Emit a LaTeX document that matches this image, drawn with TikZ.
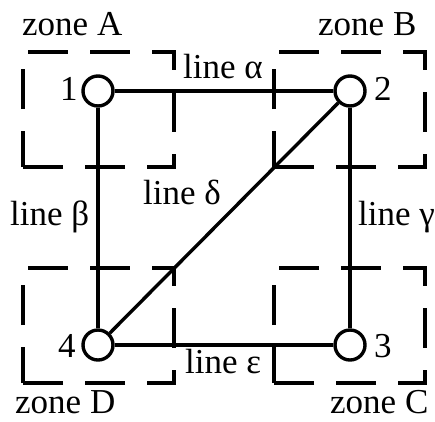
\documentclass[tikz,border=0pt]{standalone}
\usepackage{fontspec}
\setmainfont{Liberation Serif}
\newfontfamily\zonefont{Liberation Serif}
\usetikzlibrary{positioning}

\begin{document}
\begin{tikzpicture}[x=1pt,y=-1pt,
  font=\zonefont\fontsize{35}{40}\selectfont,
  zone/.style={draw,line width=4pt,dash pattern=on 40pt off 22pt,dash phase=4pt},
  stn/.style={circle,draw,fill=white,line width=3.4pt,minimum size=30pt,inner sep=0pt},
  ln/.style={line width=3.4pt},
  lbl/.style={inner sep=0pt,anchor=base west}]
\useasboundingbox (0,0) rectangle (435,421);
% zones
\draw[zone] (23,167) -- (23,52) -- (174,52) -- (174,167) -- cycle;
\draw[zone] (274,167) -- (274,52) -- (425,52) -- (425,167) -- cycle;
\draw[zone] (23,383) -- (23,268) -- (174,268) -- (174,383) -- cycle;
\draw[zone] (274,383) -- (274,268) -- (425,268) -- (425,383) -- cycle;
\node[lbl] (zA) at (22,35) {zone A};
\node[lbl] (zB) at (318,35) {zone B};
\node[lbl] (zC) at (330,413) {zone C};
\node[lbl] (zD) at (15,413) {zone D};
% stations
\node[stn] (s1) at (98,91) {};
\node[stn] (s2) at (350,91) {};
\node[stn] (s3) at (350,345) {};
\node[stn] (s4) at (98,345) {};
\node[lbl] (n1) at (60,100) {1};
\node[lbl] (n2) at (374,100) {2};
\node[lbl] (n3) at (374,357) {3};
\node[lbl] (n4) at (58,357) {4};
% lines
\draw[ln] (s1) -- (s2);
\draw[ln] (s1) -- (s4);
\draw[ln] (s2) -- (s3);
\draw[ln] (s2) -- (s4);
\draw[ln] (s4) -- (s3);
\node[lbl] (la) at (183,78) {line α};
\node[lbl] (lb) at (10,225) {line β};
\node[lbl] (lg) at (358,225) {line γ};
\node[lbl] (ld) at (143,204) {line δ};
\node[lbl] (le) at (185,373) {line ε};
\end{tikzpicture}
\end{document}
